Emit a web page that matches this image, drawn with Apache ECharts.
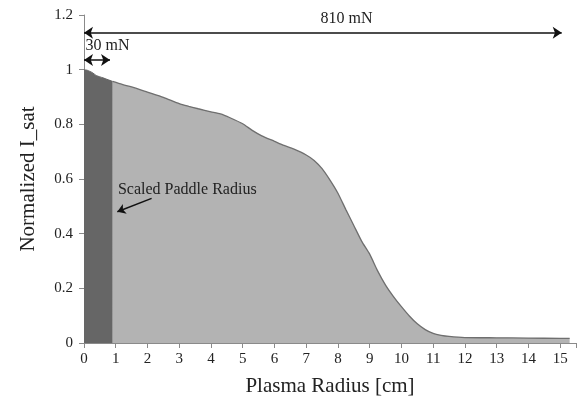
<!DOCTYPE html>
<html>
<head>
<meta charset="utf-8">
<script src="https://cdn.jsdelivr.net/npm/echarts@6/dist/echarts.min.js"></script>
<style>
  html, body { margin: 0; padding: 0; background: #fff; }
  #chart { width: 579px; height: 402px; }
</style>
</head>
<body>
<div id="chart"></div>
<script>
// plasma radius [cm] and normalized I_sat
const radius = [0, 0.1, 0.25, 0.4, 0.6, 0.9, 1.2, 1.5, 2.0, 2.5, 3.0, 3.3, 3.6, 4.0, 4.3, 4.6,
  5.0, 5.3, 5.6, 6.0, 6.3, 6.6, 7.0, 7.25, 7.5, 7.75, 8.0, 8.25, 8.5, 8.75, 9.0, 9.25, 9.5,
  9.75, 10.0, 10.25, 10.5, 10.75, 11.0, 11.25, 11.5, 12.0, 13.0, 14.0, 15.0, 15.3];
const isat = [1.0, 0.998, 0.99, 0.978, 0.97, 0.957, 0.946, 0.937, 0.918, 0.899, 0.876, 0.866, 0.857, 0.846, 0.838, 0.824,
  0.802, 0.778, 0.758, 0.738, 0.723, 0.71, 0.688, 0.668, 0.638, 0.596, 0.548, 0.488, 0.43, 0.372, 0.325, 0.264, 0.212,
  0.17, 0.133, 0.099, 0.07, 0.049, 0.035, 0.028, 0.024, 0.02, 0.019, 0.018, 0.017, 0.017];
const paddleEdge = 0.9;

// annotations
const span810 = [0, 15.05, 1.135];
const span30 = [0, 0.82, 1.035];

const font = 'Liberation Serif';
const txt = '#222';

const paddle = [];
const plasma = [];
radius.forEach((r, i) => {
  if (r <= paddleEdge) paddle.push([r, isat[i]]);
  if (r >= paddleEdge) plasma.push([r, isat[i]]);
});

const myChart = echarts.init(document.getElementById('chart'));
const option = {
  animation: false,
  grid: { left: 84, right: 2, top: 15, bottom: 59 },
  xAxis: {
    type: 'value', min: 0, max: 15.5, interval: 1,
    name: 'Plasma Radius [cm]', nameLocation: 'middle', nameGap: 33,
    nameTextStyle: { fontFamily: font, fontSize: 21, color: txt },
    splitLine: { show: false },
    axisLine: { lineStyle: { color: '#8a8a8a' } },
    axisTick: { length: 5, lineStyle: { color: '#8a8a8a' } },
    axisLabel: {
      fontFamily: font, fontSize: 15, color: txt, margin: 9,
      formatter: v => Number.isInteger(v) ? String(v) : ''
    }
  },
  yAxis: {
    type: 'value', min: 0, max: 1.2, interval: 0.2,
    name: 'Normalized I_sat', nameLocation: 'middle', nameGap: 45,
    nameTextStyle: { fontFamily: font, fontSize: 21, color: txt },
    splitLine: { show: false },
    axisLine: { show: true, lineStyle: { color: '#8a8a8a' } },
    axisTick: { show: true, length: 5, lineStyle: { color: '#8a8a8a' } },
    axisLabel: { fontFamily: font, fontSize: 15, color: txt, margin: 11 }
  },
  series: [
    {
      type: 'line', data: plasma, symbol: 'none', smooth: 0.2,
      lineStyle: { color: '#6f6f6f', width: 1.3 },
      areaStyle: { color: '#b3b3b3', opacity: 1 },
      markLine: {
        silent: true, symbol: ['arrow', 'arrow'], symbolSize: [9, 9],
        lineStyle: { color: '#111', width: 1.5, type: 'solid' },
        label: { show: false },
        data: [
          [{ coord: [span810[0], span810[2]] }, { coord: [span810[1], span810[2]] }],
          [{ coord: [span30[0], span30[2]] }, { coord: [span30[1], span30[2]] }],
          [{ coord: [2.13, 0.529], symbol: 'none' }, { coord: [1.05, 0.48], symbol: 'arrow', symbolSize: 8 }]
        ]
      }
    },
    {
      type: 'line', data: paddle, symbol: 'none', smooth: 0.2,
      lineStyle: { color: '#666', width: 1 },
      areaStyle: { color: '#666666', opacity: 1 }
    }
  ]
};
myChart.setOption(option);

// text labels placed at data coordinates
const at = (x, y) => myChart.convertToPixel({ gridIndex: 0 }, [x, y]);
const p810 = at(7.45, 1.135);
const p30 = at(0.05, 1.035);
const pPad = at(1.07, 0.559);
myChart.setOption({
  graphic: [
    { type: 'text', z: 100, x: p810[0], y: p810[1] - 6, style: { text: '810 mN', font: '16px ' + font, fill: txt, textAlign: 'left', textVerticalAlign: 'bottom' } },
    { type: 'text', z: 100, x: p30[0], y: p30[1] - 6, style: { text: '30 mN', font: '16px ' + font, fill: txt, textAlign: 'left', textVerticalAlign: 'bottom' } },
    { type: 'text', z: 100, x: pPad[0], y: pPad[1], style: { text: 'Scaled Paddle Radius', font: '16px ' + font, fill: txt, textAlign: 'left', textVerticalAlign: 'middle' } }
  ]
});
</script>
</body>
</html>
